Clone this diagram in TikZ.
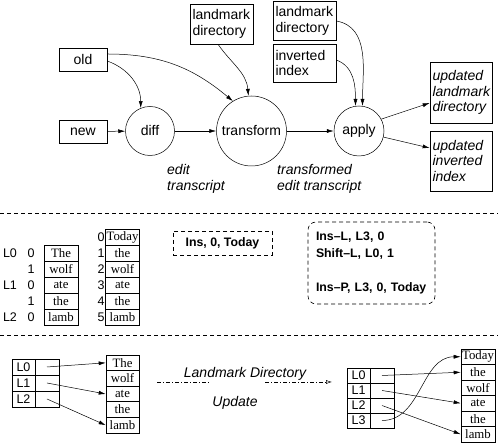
\documentclass[tikz,border=0pt]{standalone}
\usepackage{fontspec}
\setmainfont{Liberation Serif}
\setsansfont{Liberation Sans}
\usetikzlibrary{arrows.meta}
\begin{document}
\begin{tikzpicture}[x=1pt,y=1pt,
  lbl/.style={font=\sffamily\fontsize{14}{15.5}\selectfont},
  ilbl/.style={font=\sffamily\itshape\fontsize{14}{15.5}\selectfont},
  box/.style={draw, line width=0.6pt, inner xsep=2.5pt, inner ysep=0pt, align=left},
  sbox/.style={draw, line width=0.6pt, inner sep=0pt, lbl, minimum width=48pt, minimum height=23pt},
  proc/.style={draw, circle, line width=0.5pt, inner sep=0pt, lbl},
  arr/.style={-{Latex[length=7pt,width=4pt]}, line width=0.5pt},
  cell/.style={draw, line width=0.6pt, minimum width=34pt, minimum height=16pt, inner sep=0pt, font=\rmfamily\fontsize{12.8}{12.8}\selectfont},
  lcell/.style={draw, line width=0.6pt, minimum height=16pt, inner sep=0pt, font=\sffamily\fontsize{12.5}{12.5}\selectfont},
  tag/.style={inner sep=0pt, font=\sffamily\fontsize{12.5}{12.5}\selectfont},
  bold/.style={font=\sffamily\bfseries\fontsize{12.3}{17}\selectfont},
  dsh/.style={dash pattern=on 4pt off 3pt, line width=0.6pt},
  dashdot/.style={dash pattern=on 4pt off 2pt on 1pt off 2pt, line width=0.5pt}
]
\useasboundingbox (0,0) rectangle (498,443);

% ---------- top section ----------
\node[box, lbl, text width=58pt, minimum height=40pt] (ldm) at (221.5,419) {landmark\\directory};
\node[box, lbl, text width=58pt, minimum height=39pt] (ldr) at (304.5,422) {landmark\\directory};
\node[box, lbl, text width=58pt, minimum height=38pt] (ii) at (304.5,380) {inverted\\index};
\node[box, ilbl, text width=57pt, minimum height=61pt] (uld) at (461,350.5) {updated\\landmark\\directory};
\node[box, ilbl, text width=57pt, minimum height=60pt] (uii) at (461,282) {updated\\inverted\\index};
\node[sbox] (old) at (83,383.5) {old};
\node[sbox] (new) at (83,311.5) {new};
\node[proc, minimum size=49pt] (diff) at (150,312) {diff};
\node[proc, minimum size=70pt] (transform) at (251.5,312) {transform};
\node[proc, minimum size=50pt] (apply) at (359,312) {apply};

\node[ilbl, anchor=west, align=left, inner sep=0pt] (et) at (167,264) {edit\\transcript};
\node[ilbl, anchor=west, align=left, inner sep=0pt] (tet) at (277,264) {transformed\\edit transcript};

\draw[arr] (new) -- (diff);
\draw[arr] (diff) -- (transform);
\draw[arr] (transform) -- (apply);
\draw[arr] ([yshift=-1.5pt]old.east) to[out=-20,in=90] (diff.112);
\draw[arr] ([yshift=5.5pt]old.east) to[out=0,in=140] (transform.122);
\draw[arr] ([xshift=-3.5pt]ldm.south) to[out=-55,in=95] (transform.95);
\draw[arr] (ldr.east) to[out=-10,in=90] (apply.82);
\draw[arr] ([yshift=3pt]ii.east) to[out=-20,in=90] (apply.98);
\draw[arr] (apply.28) -- ([yshift=-10.5pt]uld.west);
\draw[arr] (apply.-14) -- ([yshift=13pt]uii.west);

% ---------- separators ----------
\draw[dsh] (0,230) -- (498,230);
\draw[dsh] (0,108) -- (498,108);

% ---------- middle section ----------
\foreach \w [count=\i from 0] in {Today,the,wolf,ate,the,lamb}
  \node[cell] (t\i) at (122.5,206-16*\i) {\w};
\foreach \w [count=\i from 0] in {0,1,2,3,4,5}
  \node[tag] (n\i) at (101,206-16*\i) {\w};
\foreach \w [count=\i from 1] in {The,wolf,ate,the,lamb}
  \node[cell] (s\i) at (61,206-16*\i) {\w};
\foreach \w [count=\i from 1] in {0,1,0,1,0}
  \node[tag] (p\i) at (31,206-16*\i) {\w};
\node[tag] (l0) at (10,190) {L0};
\node[tag] (l1) at (10,158) {L1};
\node[tag] (l2) at (10,126) {L2};

\node[draw, dsh, bold, minimum width=99pt, minimum height=24pt, inner sep=0pt] (ins) at (222.5,200) {Ins, 0, Today};
\node[draw, dsh, bold, rounded corners=8pt, align=left, text width=111pt, inner xsep=8pt, minimum height=82pt] (edits) at (371.5,180)
  {Ins–L, L3, 0\\Shift–L, L0, 1\\[17pt]Ins–P, L3, 0, Today};

% ---------- bottom section ----------
\foreach \w [count=\i from 0] in {L0,L1,L2} {
  \node[lcell, minimum width=23pt] (a\i) at (23.5,76-16*\i) {\w};
  \node[lcell, minimum width=24pt] (ar\i) at (47,76-16*\i) {};
}
\foreach \w [count=\i from 0] in {The,wolf,ate,the,lamb}
  \node[cell, minimum height=15.6pt, minimum width=33pt] (b\i) at (122.5,80.2-15.6*\i) {\w};
\draw[arr] (ar0.center) -- (b0.west);
\draw[arr] (ar1.center) -- (b2.west);
\draw[arr] (ar2.center) -- (b4.west);

\foreach \w [count=\i from 0] in {L0,L1,L2,L3} {
  \node[lcell, minimum width=23pt, minimum height=15pt] (c\i) at (358.5,67.5-15*\i) {\w};
  \node[lcell, minimum width=24pt, minimum height=15pt] (cr\i) at (382,67.5-15*\i) {};
}
\foreach \w [count=\i from 0] in {Today,the,wolf,ate,the,lamb}
  \node[cell, minimum height=15.5pt] (d\i) at (478,86.25-15.5*\i) {\w};
\draw[arr] (cr0.center) -- (d1.west);
\draw[arr] (cr1.center) -- (d3.west);
\draw[arr] (cr2.center) -- (d5.west);
\draw[arr] (cr3.center) to[out=0,in=180] (d0.west);

\node[ilbl] (ldu) at (245,69) {Landmark Directory};
\node[ilbl] (upd) at (235,40) {Update};
\coordinate (u1) at (157,61);
\coordinate (u2) at (210,61);
\coordinate (u3) at (265,61);
\coordinate (u4) at (332,61);
\draw[dashdot, -{Latex[open,length=6pt,width=4pt]}] (u1) -- (u2) (u3) -- (u4);
\end{tikzpicture}
\end{document}
